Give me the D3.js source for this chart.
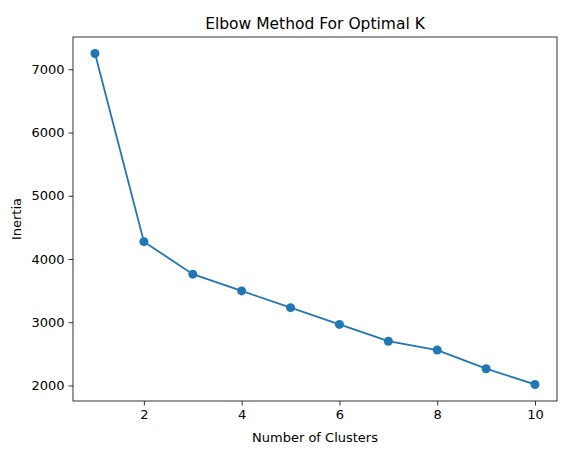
<!DOCTYPE html>
<html><head><meta charset="utf-8">
<script src="https://cdn.jsdelivr.net/npm/d3@7"></script>
<style>body{margin:0;background:#fff}text{font-family:"DejaVu Sans",sans-serif}</style>
</head><body>
<svg id="c" width="580" height="455"></svg>
<script>
const kValues = [1,2,3,4,5,6,7,8,9,10];
const inertia = [7249,4274,3760,3495,3230,2966,2700,2560,2265,2016];
const xTicks = [2,4,6,8,10];
const yTicks = [2000,3000,4000,5000,6000,7000];

const svg = d3.select("#c");
const L=73,R=557,T=37,B=401;
const x = d3.scaleLinear().domain([0.55,10.45]).range([L,R]);
const yPad=(7249-2016)*0.05;
const y = d3.scaleLinear().domain([2016-yPad,7249+yPad]).range([B,T]);

svg.append("g").attr("transform",`translate(0,${B})`)
  .call(d3.axisBottom(x).tickValues(xTicks).tickFormat(d3.format("d")).tickSize(4.5).tickPadding(4))
  .call(g=>g.select(".domain").remove());
svg.append("g").attr("transform",`translate(${L},0)`)
  .call(d3.axisLeft(y).tickValues(yTicks).tickFormat(d3.format("d")).tickSize(4.5).tickPadding(4))
  .call(g=>g.select(".domain").remove());
svg.selectAll(".tick text").attr("font-size",13).attr("fill","#000").attr("font-family","DejaVu Sans");
svg.selectAll(".tick line").attr("stroke","#000").attr("stroke-width",0.8);
svg.append("rect").attr("x",L).attr("y",T).attr("width",R-L).attr("height",B-T)
  .attr("fill","none").attr("stroke","#000").attr("stroke-width",0.8);

svg.append("path").datum(kValues.map((k,i)=>[k,inertia[i]]))
  .attr("d",d3.line().x(d=>x(d[0])).y(d=>y(d[1])))
  .attr("fill","none").attr("stroke","#1f77b4").attr("stroke-width",1.8);
svg.selectAll("circle.pt").data(kValues).enter().append("circle")
  .attr("cx",(k)=>x(k)).attr("cy",(k,i)=>y(inertia[i])).attr("r",4.5).attr("fill","#1f77b4");

svg.append("text").attr("x",(L+R)/2).attr("y",T-8).attr("text-anchor","middle").attr("font-size",15.5).text("Elbow Method For Optimal K");
svg.append("text").attr("x",(L+R)/2).attr("y",442).attr("text-anchor","middle").attr("font-size",13).text("Number of Clusters");
svg.append("text").attr("transform",`translate(21,${(T+B)/2}) rotate(-90)`).attr("text-anchor","middle").attr("font-size",13).text("Inertia");
</script>
</body></html>
